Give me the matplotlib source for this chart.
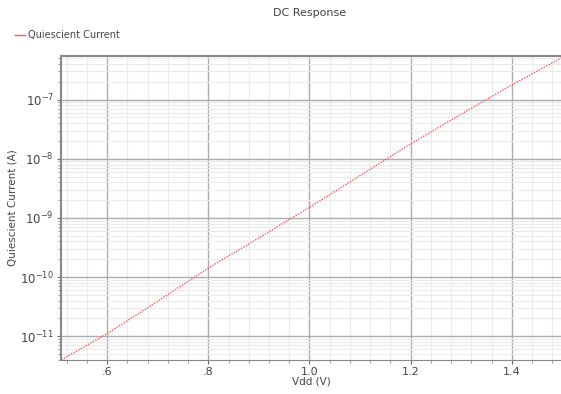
import numpy as np
import matplotlib.pyplot as plt
from matplotlib.ticker import FixedLocator, FixedFormatter, MultipleLocator, LogLocator

vdd = [0.51, 0.6, 0.7, 0.8, 0.9, 1.0, 1.1, 1.2, 1.3, 1.4, 1.5]
iq = [4.0e-12, 1.1e-11, 3.9e-11, 1.42e-10, 4.6e-10, 1.51e-9, 5.2e-9, 1.79e-8, 5.7e-8, 1.78e-7, 5.2e-7]
xticks = [0.6, 0.8, 1.0, 1.2, 1.4]
xticklabels = ['.6', '.8', '1.0', '1.2', '1.4']

txt = '#444444'
plt.rcParams['font.family'] = ['DejaVu Sans']

fig = plt.figure(figsize=(5.61, 3.94), dpi=100)
ax = fig.add_axes([61/561, 34/394, 500/561, 304/394])

ax.plot(vdd, iq, color='#ff5555', linestyle=(0, (1, 1)), lw=1.0, label='Quiescient Current')
ax.set_yscale('log')
ax.set_xlim(0.509, 1.497)
ax.set_ylim(3.96e-12, 5.47e-7)

ax.xaxis.set_major_locator(FixedLocator(xticks))
ax.xaxis.set_major_formatter(FixedFormatter(xticklabels))
ax.xaxis.set_minor_locator(MultipleLocator(0.04))
ax.yaxis.set_major_locator(LogLocator(base=10, numticks=20))
ax.yaxis.set_minor_locator(LogLocator(base=10, subs=np.arange(2, 10), numticks=20))

ax.grid(which='major', color='#adadad', lw=1.0)
ax.grid(which='minor', color='#ebebeb', lw=0.8)
ax.set_axisbelow(True)

ax.tick_params(which='major', length=3, color='#666666', labelsize=8, labelcolor=txt, pad=2)
ax.tick_params(which='minor', length=2, color='#888888')
ax.tick_params(axis='y', labelsize=8.5)

for s in ['top', 'left']:
    ax.spines[s].set_color('#888888')
    ax.spines[s].set_linewidth(1.5)
ax.spines['bottom'].set_color('#888888')
ax.spines['right'].set_visible(False)

ax.set_xlabel('Vdd (V)', fontsize=7.5, color=txt, labelpad=0)
ax.set_ylabel('Quiescient Current (A)', fontsize=7.5, color=txt)
ax.yaxis.set_label_coords(-43/500, 0.5)
fig.text(310/561, 1 - 13/394, 'DC Response', ha='center', va='center', fontsize=8, color=txt)

leg = fig.legend(loc='center left', bbox_to_anchor=(10/561, 1 - 35/394), frameon=False,
                 fontsize=7, handlelength=1.0, handletextpad=0.4, borderpad=0)
leg.get_lines()[0].set_linestyle('-')
for t in leg.get_texts():
    t.set_color(txt)

fig.savefig('out.png', dpi=100)
